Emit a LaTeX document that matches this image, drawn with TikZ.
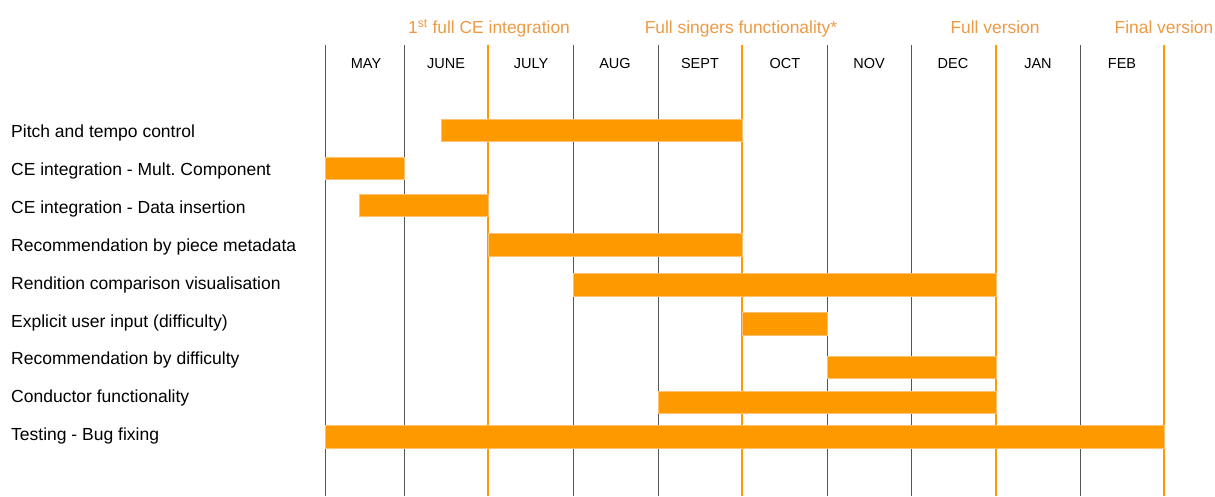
\documentclass[tikz,border=0pt]{standalone}
\usepackage{fontspec}
\setmainfont{Liberation Sans}
\frenchspacing
\definecolor{barorange}{HTML}{FF9900}
\definecolor{baredge}{HTML}{FFC070}
\definecolor{miletext}{HTML}{EE9A45}
\definecolor{gridgray}{HTML}{555555}
\begin{document}
\begin{tikzpicture}[x=1pt,y=-1pt,
  tasklabel/.style={anchor=base west,inner sep=0pt,font=\fontsize{17.5}{20}\selectfont,text=black},
  monthlabel/.style={anchor=base,inner sep=0pt,font=\fontsize{14.5}{17}\selectfont,text=black},
  milelabel/.style={anchor=base,inner sep=0pt,font=\fontsize{17.4}{20}\selectfont,text=miletext},
  gridline/.style={draw=gridgray,line width=0.9pt},
  mileline/.style={draw=barorange,line width=2pt},
  taskbar/.style={fill=barorange,draw=baredge,line width=0.6pt}]
\useasboundingbox (0,0) rectangle (1215,496);
\fill[white] (0,0) rectangle (1215,496);

% month grid
\foreach \x in {325,404,573,658,827,911,1080}
  \draw[gridline] (\x,45) -- (\x,496);
\foreach \x in {488,742,996,1164}
  \draw[mileline] (\x,45) -- (\x,496);

% month names
\node[monthlabel] (m1) at (366,68.5) {MAY};
\node[monthlabel] (m2) at (446,68.5) {JUNE};
\node[monthlabel] (m3) at (531,68.5) {JULY};
\node[monthlabel] (m4) at (615,68.5) {AUG};
\node[monthlabel] (m5) at (700,68.5) {SEPT};
\node[monthlabel] (m6) at (785,68.5) {OCT};
\node[monthlabel] (m7) at (869,68.5) {NOV};
\node[monthlabel] (m8) at (953,68.5) {DEC};
\node[monthlabel] (m9) at (1038,68.5) {JAN};
\node[monthlabel] (m10) at (1122,68.5) {FEB};

% milestones
\node[milelabel] (ms1) at (489,33.5) {1\textsuperscript{st} full CE integration};
\node[milelabel] (ms2) at (741,33.5) {Full singers functionality*};
\node[milelabel] (ms3) at (995,33.5) {Full version};
\node[milelabel] (ms4) at (1164,33.5) {Final version};

% task names
\node[tasklabel] (t1) at (11,137) {Pitch and tempo control};
\node[tasklabel] (t2) at (11,175) {CE integration - Mult. Component};
\node[tasklabel] (t3) at (11,213) {CE integration - Data insertion};
\node[tasklabel] (t4) at (11,251) {Recommendation by piece metadata};
\node[tasklabel] (t5) at (11,289) {Rendition comparison visualisation};
\node[tasklabel] (t6) at (11,327) {Explicit user input (difficulty)};
\node[tasklabel] (t7) at (11,364) {Recommendation by difficulty};
\node[tasklabel] (t8) at (11,402) {Conductor functionality};
\node[tasklabel] (t9) at (11,440) {Testing - Bug fixing};

% task bars
\path[taskbar] (441,119) rectangle (742,141) node[pos=.5] (b1) {};
\path[taskbar] (325,157) rectangle (404,179) node[pos=.5] (b2) {};
\path[taskbar] (359,194) rectangle (488,216) node[pos=.5] (b3) {};
\path[taskbar] (488,233) rectangle (742,256) node[pos=.5] (b4) {};
\path[taskbar] (573,273) rectangle (996,296) node[pos=.5] (b5) {};
\path[taskbar] (742,312) rectangle (827,335) node[pos=.5] (b6) {};
\path[taskbar] (827,356) rectangle (996,378) node[pos=.5] (b7) {};
\path[taskbar] (658,391) rectangle (996,413) node[pos=.5] (b8) {};
\path[taskbar] (325,425) rectangle (1164,448) node[pos=.5] (b9) {};
\end{tikzpicture}
\end{document}
